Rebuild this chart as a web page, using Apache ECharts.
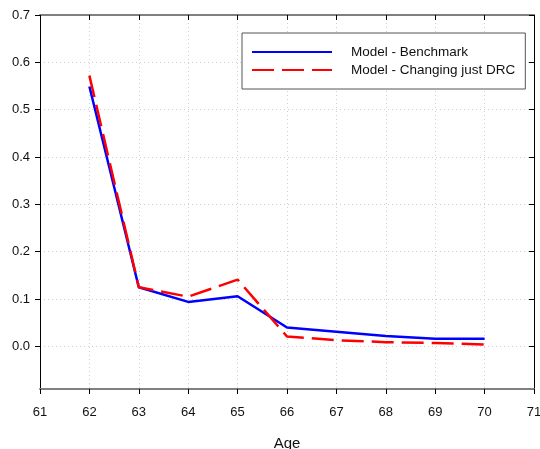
<!DOCTYPE html>
<html>
<head>
<meta charset="utf-8">
<script src="https://cdn.jsdelivr.net/npm/echarts@6/dist/echarts.min.js"></script>
<style>
  html, body { margin: 0; padding: 0; background: #fff; }
  #chart { width: 540px; height: 449px; }
</style>
</head>
<body>
<div id="chart"></div>
<script>
// Retirement-age profile: share by age under two model variants
const ages = [62, 63, 64, 65, 66, 67, 68, 69, 70];
const benchmark = [0.549, 0.125, 0.094, 0.106, 0.040, 0.031, 0.022, 0.016, 0.016];
const changingDRC = [0.572, 0.125, 0.105, 0.141, 0.021, 0.013, 0.009, 0.007, 0.004];
const xTicks = [61, 62, 63, 64, 65, 66, 67, 68, 69, 70, 71];
const yTicks = [0.0, 0.1, 0.2, 0.3, 0.4, 0.5, 0.6, 0.7];

const font = 'Liberation Sans, Arial, sans-serif';
const pair = (xs, ys) => xs.map((x, i) => [x, ys[i]]);

const chart = echarts.init(document.getElementById('chart'), null, { renderer: 'canvas' });

const gridLine = { show: true, lineStyle: { color: '#cfcfcf', width: 1, type: [1, 3] } };

chart.setOption({
  animation: false,
  backgroundColor: '#ffffff',
  grid: { left: 40, right: 6, top: 15, bottom: 60, containLabel: false, outerBoundsMode: 'none' },
  legend: {
    orient: 'vertical',
    left: 242,
    top: 33,
    padding: [12, 10, 12, 9],
    itemGap: 4,
    itemWidth: 80,
    itemHeight: 14,
    backgroundColor: '#ffffff',
    borderColor: '#555555',
    borderWidth: 1,
    borderRadius: 0,
    // line-only legend keys (no marker)
    itemStyle: { opacity: 0 },
    textStyle: { fontFamily: font, fontSize: 13.5, color: '#111', padding: [0, 0, 0, 14] },
    data: ['Model - Benchmark', 'Model - Changing just DRC']
  },
  xAxis: [
    {
      type: 'value', min: 61, max: 71, interval: 1,
      name: 'Age', nameLocation: 'middle', nameGap: 47,
      nameTextStyle: { fontFamily: font, fontSize: 15, color: '#111' },
      axisLine: { show: true, onZero: false, lineStyle: { color: '#808080', width: 2 } },
      axisTick: { show: true, inside: false, length: 5, lineStyle: { color: '#000', width: 1 } },
      axisLabel: { margin: 17, fontFamily: font, fontSize: 13, color: '#111' },
      splitLine: gridLine
    },
    {
      type: 'value', min: 61, max: 71, interval: 1, position: 'top',
      axisLine: { show: true, onZero: false, lineStyle: { color: '#808080', width: 2 } },
      axisTick: { show: true, inside: true, length: 5, lineStyle: { color: '#000', width: 1 } },
      axisLabel: { show: false },
      splitLine: { show: false }
    }
  ],
  yAxis: [
    {
      type: 'value', min: -0.09, max: 0.7,
      axisLine: { show: true, onZero: false, lineStyle: { color: '#000', width: 1 } },
      axisTick: { show: true, inside: false, length: 5, customValues: yTicks, lineStyle: { color: '#000', width: 1 } },
      axisLabel: { margin: 10, fontFamily: font, fontSize: 13, color: '#111', customValues: yTicks,
        formatter: v => v.toFixed(1) },
      splitLine: gridLine
    },
    {
      type: 'value', min: -0.09, max: 0.7, position: 'right',
      axisLine: { show: true, onZero: false, lineStyle: { color: '#000', width: 1 } },
      axisTick: { show: true, inside: true, length: 5, customValues: yTicks, lineStyle: { color: '#000', width: 1 } },
      axisLabel: { show: false, customValues: yTicks },
      splitLine: { show: false }
    }
  ],
  series: [
    {
      name: 'Model - Benchmark', type: 'line', showSymbol: false, symbol: 'none',
      data: pair(ages, benchmark),
      lineStyle: { color: '#0000ff', width: 2.5 },
      itemStyle: { color: '#0000ff' },
      z: 3
    },
    {
      name: 'Model - Changing just DRC', type: 'line', showSymbol: false, symbol: 'none',
      data: pair(ages, changingDRC),
      lineStyle: { color: '#ff0000', width: 2.5, type: [22, 8] },
      itemStyle: { color: '#ff0000' },
      z: 4
    }
  ]
});
</script>
</body>
</html>
